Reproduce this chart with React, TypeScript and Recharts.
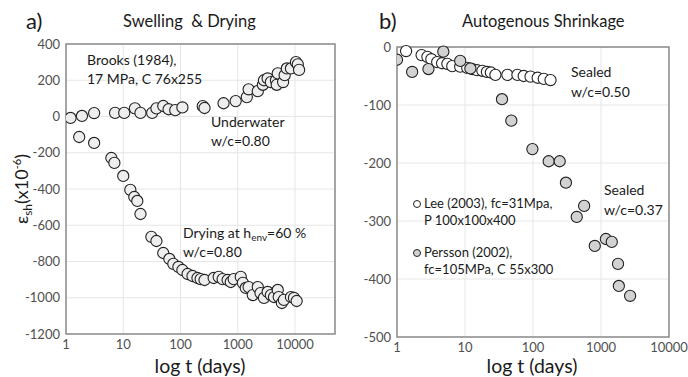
import { ScatterChart, Scatter, XAxis, YAxis, CartesianGrid, ReferenceArea } from "recharts";

// a) Brooks (1984) – underwater swelling
const underwaterT = [1.2, 1.9, 3.1, 7.2, 10.4, 16, 20, 32, 38, 50, 62, 81, 108, 245, 263, 565, 920, 1440, 1550, 2240, 2750, 2870, 3330, 3790, 4650, 4800, 5000, 6200, 6600, 7200, 8500, 10400, 11200, 11800];
const underwaterE = [-8, 3, 19, 20, 20, 45, 20, 20, 45, 58, 40, 35, 50, 57, 47, 73, 85, 107, 150, 140, 175, 200, 210, 190, 200, 175, 238, 190, 228, 265, 265, 300, 288, 257];

// a) drying at 60 % RH
const dryingT = [1.7, 3.1, 6.2, 7, 10, 13.3, 15.6, 17.6, 20, 31, 38, 50, 64, 75, 92, 108, 133, 162, 198, 225, 263, 380, 465, 545, 665, 755, 850, 1130, 1230, 1380, 1550, 1830, 2240, 2500, 2870, 3330, 3790, 4300, 5000, 5200, 5900, 6400, 8500, 9600, 10700];
const dryingE = [-113, -146, -229, -256, -328, -405, -444, -466, -538, -664, -687, -753, -786, -813, -830, -847, -869, -880, -891, -897, -902, -891, -885, -897, -902, -913, -897, -885, -918, -946, -941, -985, -941, -974, -1001, -968, -985, -996, -957, -996, -1029, -1012, -996, -1001, -1018];

// b) Lee (2003), w/c 0.50
const leeT = [1.36, 2.3, 2.8, 3.2, 3.9, 4.6, 5.5, 6.5, 8.5, 10.8, 12.8, 15, 18, 21, 24, 28, 42, 59, 73, 92, 117, 144, 181];
const leeE = [-7, -14, -17, -21, -26, -28, -29, -33, -34, -36, -38, -40, -41, -43, -44, -48, -48, -48, -50, -51, -53, -55, -57];

// b) Persson (2002), w/c 0.37
const perssonT = [1.0, 1.67, 2.9, 4.8, 8.5, 12, 35, 48, 98, 170, 247, 305, 440, 565, 810, 1180, 1440, 1780, 1830, 2680];
const perssonE = [-22, -43, -38, -8, -24, -37, -90, -127, -176, -197, -197, -234, -293, -274, -343, -331, -336, -374, -412, -429];

const xTicks = [1, 10, 100, 1000, 10000];
const yTicksA = [400, 200, 0, -200, -400, -600, -800, -1000, -1200];
const yTicksB = [0, -100, -200, -300, -400, -500];

const zip = (t: number[], e: number[]) => t.map((x, i) => ({ t: x, e: e[i] }));

const FONT = "Lato, 'Open Sans', sans-serif";
const tickStyle = { fontSize: 13, fill: "#505050", fontFamily: FONT };

const dot = (fill: string, r = 5.6) => (p: any) =>
  <circle cx={p.cx} cy={p.cy} r={r} fill={fill} stroke="#222" strokeWidth={1.1} />;

export default function App() {
  return (
    <div style={{ position: "absolute", left: 0, top: 0, width: 688, height: 377, background: "#fff", fontFamily: FONT }}>
      <div style={{ position: "absolute", left: 0, top: 0 }}>
        <ScatterChart width={344} height={377} margin={{ top: 44, right: 9, bottom: 13, left: 0 }}>
          <CartesianGrid stroke="#e6e6e6" />
          <XAxis dataKey="t" type="number" scale="log" domain={[1, 50000]} ticks={xTicks}
            allowDataOverflow tickLine={false} axisLine={false} tick={tickStyle} height={30} tickMargin={0} />
          <YAxis dataKey="e" type="number" domain={[-1200, 400]} ticks={yTicksA}
            tickLine={false} axisLine={false} tick={tickStyle} width={66} tickMargin={0} />
          <ReferenceArea x1={1} x2={50000} y1={-1200} y2={400} fill="none" stroke="#8c8c8c" strokeWidth={1.5} ifOverflow="visible" />
          <Scatter data={zip(underwaterT, underwaterE)} shape={dot("#eeeeee")} isAnimationActive={false} />
          <Scatter data={zip(dryingT, dryingE)} shape={dot("#eeeeee")} isAnimationActive={false} />
        </ScatterChart>
      </div>
      <div style={{ position: "absolute", left: 344, top: 0 }}>
        <ScatterChart width={344} height={377} margin={{ top: 47, right: 19, bottom: 10, left: 0 }}>
          <CartesianGrid stroke="#e6e6e6" />
          <XAxis dataKey="t" type="number" scale="log" domain={[1, 10000]} ticks={xTicks}
            allowDataOverflow tickLine={false} axisLine={false} tick={tickStyle} height={30} tickMargin={0} />
          <YAxis dataKey="e" type="number" domain={[-500, 0]} ticks={yTicksB}
            tickLine={false} axisLine={false} tick={tickStyle} width={53} tickMargin={0} />
          <ReferenceArea x1={1} x2={10000} y1={-500} y2={0} fill="none" stroke="#8c8c8c" strokeWidth={1.5} ifOverflow="visible" />
          <Scatter data={zip(leeT, leeE)} shape={dot("#ffffff")} isAnimationActive={false} />
          <Scatter data={zip(perssonT, perssonE)} shape={dot("#d2d2d2")} isAnimationActive={false} />
        </ScatterChart>
      </div>
      <svg width={688} height={377} style={{ position: "absolute", left: 0, top: 0, pointerEvents: "none" }} fontFamily={FONT} fill="#1a1a1a">
        <text x={26} y={29} fontSize={22}>a)</text>
        <text x={123} y={27} fontSize={16.5}>{"Swelling\u00a0 & Drying"}</text>
        <text x={379} y={29} fontSize={22}>b)</text>
        <text x={462} y={27} fontSize={16.5}>Autogenous Shrinkage</text>

        <text transform="rotate(-90, 28, 189)" x={28} y={189} fontSize={18} textAnchor="middle">
          ε<tspan fontSize={12} dy={4}>sh</tspan><tspan dy={-4}>(x10</tspan><tspan fontSize={11} dy={-7}>-6</tspan><tspan dy={7}>)</tspan>
        </text>

        <text x={200} y={373} fontSize={19.5} textAnchor="middle">log t (days)</text>
        <text x={532} y={373} fontSize={19.5} textAnchor="middle">log t (days)</text>

        <g fontSize={14}>
          <text x={87} y={65}>Brooks (1984),</text>
          <text x={87} y={84}>17 MPa, C 76x255</text>
          <text x={211} y={127}>Underwater</text>
          <text x={211} y={146}>w/c=0.80</text>
          <text x={183} y={238}>Drying at h<tspan fontSize={10} dy={3}>env</tspan><tspan dy={-3}>=60 %</tspan></text>
          <text x={183} y={257}>w/c=0.80</text>
          <text x={571} y={77}>Sealed</text>
          <text x={571} y={97}>w/c=0.50</text>
          <text x={604} y={195}>Sealed</text>
          <text x={604} y={215}>w/c=0.37</text>
        </g>
        <g fontSize={13}>
          <circle cx={417} cy={204} r={3.5} fill="#fff" stroke="#222" strokeWidth={1} />
          <text x={424} y={208}>Lee (2003), fc=31Mpa,</text>
          <text x={424} y={225}>P 100x100x400</text>
          <circle cx={417} cy={253} r={3.5} fill="#d2d2d2" stroke="#222" strokeWidth={1} />
          <text x={424} y={257}>Persson (2002),</text>
          <text x={424} y={274}>fc=105MPa, C 55x300</text>
        </g>
      </svg>
    </div>
  );
}
